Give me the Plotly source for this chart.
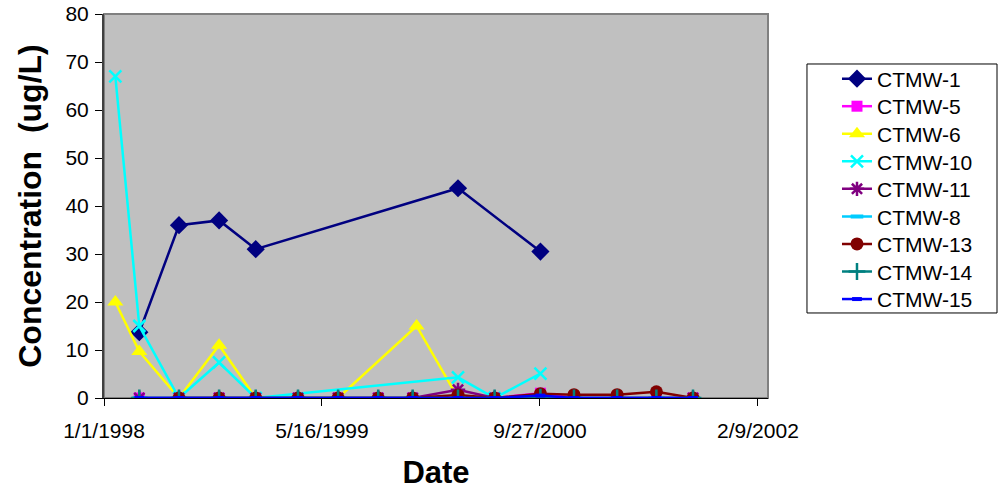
import plotly.graph_objects as go

dates = ["1998-01-27", "1998-03-23", "1998-06-22", "1998-09-22", "1998-12-15",
         "1999-03-22", "1999-06-22", "1999-09-22", "1999-12-10", "2000-03-23",
         "2000-06-15", "2000-09-28", "2000-12-14", "2001-03-23", "2001-06-21",
         "2001-09-13"]
dates_ctmw6 = ["1998-01-27", "1998-03-23", "1998-06-22", "1998-09-22", "1998-12-15",
               "1999-03-22", "1999-06-22", "1999-12-19", "2000-03-23", "2000-06-15"]

ctmw1 = [None, 13.7, 36.0, 37.0, 31.0, None, None, None, None, 43.7, None, 30.5, None, None, None, None]
ctmw5 = [None, 0, 0, 0, 0, 0, 0, 0, 0, 0, 0, 1.0, 0, 0, 0, 0]
ctmw6 = [20.0, 9.7, 0, 11.0, 0, 0, 0, 15.0, 0, 0]
ctmw10 = [67.0, 15.0, 0, 7.4, 0, None, None, None, None, 4.3, 0, 5.1, None, None, None, None]
ctmw11 = [None, 0, 0, 0, 0, 0, 0, 0, 0, 1.7, 0, 0, 0, 0, 0, 0]
ctmw8 = [None, 0, 0, 0, 0, 0, 0, 0, 0, 0, 0, 0, 0, 0, 0, 0]
ctmw13 = [None, None, 0, 0, 0, 0, 0, 0, 0, 0.6, 0, 0.9, 0.7, 0.7, 1.3, 0]
ctmw14 = [None, 0, 0, 0, 0, 0, 0, 0, 0, 0, 0, 0.2, 0, 0, 0, 0]
ctmw15 = [None, 0, 0, 0, 0, 0, 0, 0, 0, 0, 0, 0.5, 0, 0, 0, 0]

tick_vals = ["1998-01-01", "1999-05-16", "2000-09-27", "2002-02-09"]
tick_text = ["1/1/1998", "5/16/1999", "9/27/2000", "2/9/2002"]

series = [
    ("CTMW-1", dates, ctmw1, "#000080", "diamond", 14, 0),
    ("CTMW-5", dates, ctmw5, "#FF00FF", "square", 11, 0),
    ("CTMW-6", dates_ctmw6, ctmw6, "#FFFF00", "triangle-up", 14, 0),
    ("CTMW-10", dates, ctmw10, "#00FFFF", "x-thin-open", 12, 2.5),
    ("CTMW-11", dates, ctmw11, "#800080", "asterisk-open", 12, 2.5),
    ("CTMW-8", dates, ctmw8, "#00CCFF", "line-ew-open", 9, 4),
    ("CTMW-13", dates, ctmw13, "#800000", "circle", 13, 0),
    ("CTMW-14", dates, ctmw14, "#008080", "cross-thin-open", 12, 2.5),
    ("CTMW-15", dates, ctmw15, "#0000FF", "line-ew-open", 7, 4),
]

fig = go.Figure()
legend_layouts = {}
for i, (name, xs, ys, color, sym, size, lw) in enumerate(series):
    lg = "legend" if i == 0 else f"legend{i + 1}"
    marker = dict(symbol=sym, size=size, color=color,
                  line=dict(color=color, width=lw))
    fig.add_trace(go.Scatter(
        x=xs, y=ys, name=name, mode="lines+markers",
        connectgaps=True,
        line=dict(color=color, width=2.5),
        marker=marker,
        legend=lg,
    ))
    yc = 79 + i * 27.55
    legend_layouts[lg] = dict(
        x=1.1039, y=(398 - yc) / 384, xanchor="left", yanchor="middle",
        bgcolor="rgba(0,0,0,0)", borderwidth=0,
        font=dict(size=21, color="black"),
    )

font_family = "Liberation Sans, Arial, sans-serif"

fig.update_layout(
    width=999, height=492,
    margin=dict(l=104, r=231, t=14, b=94, autoexpand=False),
    paper_bgcolor="white",
    plot_bgcolor="#C0C0C0",
    font=dict(family=font_family, size=21, color="black"),
    showlegend=True,
    xaxis=dict(
        type="date",
        range=["1998-01-01", "2002-03-04"],
        tickvals=tick_vals, ticktext=tick_text,
        ticks="outside", ticklen=7, tickcolor="black", tickwidth=1,
        showline=True, linecolor="black", linewidth=1,
        showgrid=False, zeroline=False,
        ticklabelstandoff=7,
        automargin=False,
        title=dict(text="<b>Date</b>", font=dict(size=31), standoff=20),
    ),
    yaxis=dict(
        range=[0, 80], dtick=10,
        ticks="outside", ticklen=7, tickcolor="black", tickwidth=1,
        showline=True, linecolor="#404040", linewidth=2,
        showgrid=False, zeroline=False,
        automargin=False,
        ticklabelstandoff=2,
        title=dict(text="<b>Concentration  (ug/L)</b>", font=dict(size=32), standoff=14),
    ),
    shapes=[
        dict(type="rect", xref="paper", yref="paper", x0=0, y0=0, x1=1, y1=1,
             line=dict(color="#808080", width=2), layer="below"),
        dict(type="rect", xref="paper", yref="paper", x0=1.0587, y0=0.2214, x1=1.3449, y1=0.8698,
             line=dict(color="black", width=1), fillcolor="white", layer="below"),
    ],
    **legend_layouts,
)

fig.write_html("out.html", config={"displayModeBar": False},
               post_script="document.body.style.margin='0';")
